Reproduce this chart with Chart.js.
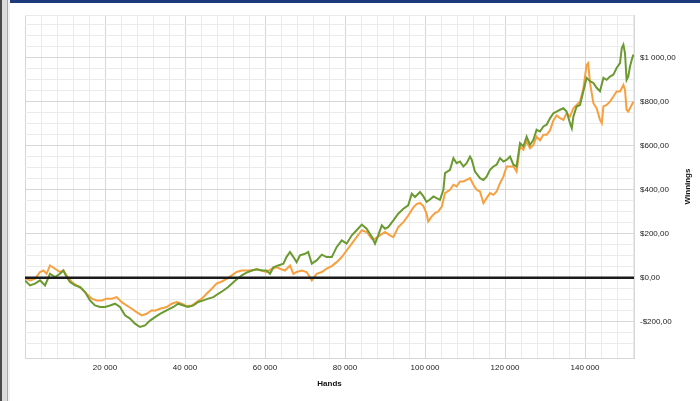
<!DOCTYPE html>
<html>
<head>
<meta charset="utf-8">
<script src="https://cdn.jsdelivr.net/npm/chart.js@4/dist/chart.umd.min.js"></script>
<style>
  html, body { margin: 0; padding: 0; background: #fff; }
  #wrap { position: relative; width: 700px; height: 401px; overflow: hidden; }
  #topbar { position: absolute; left: 0; top: 0; width: 700px; height: 3px; background: #1d3b7c; }
  #side { position: absolute; left: 0; top: 0; width: 10px; height: 401px;
    background: linear-gradient(to right, #4a4a4a 0, #4a4a4a 2px, #dcdcdc 2px, #dcdcdc 7px, #a8a8a8 7px, #a8a8a8 8px, #f2f2f2 8px, #f2f2f2 10px); }
  canvas { position: absolute; left: 0; top: 0; }
</style>
</head>
<body>
<div id="wrap">
  <canvas id="chart" width="700" height="401"></canvas>
  <div id="topbar"></div>
  <div id="side"></div>
</div>
<script>
// valeurs (mains jouées / gains en $)
const greenHands = [0, 1250, 2500, 3750, 5000, 6250, 7500, 8750, 9600, 10400, 11250, 12500, 13750, 15000, 16250, 17500, 18750, 20000, 21250, 22500, 23750, 25000, 26250, 27500, 28750, 30000, 31250, 32500, 33750, 35400, 37100, 38300, 39600, 40800, 42100, 43300, 44600, 45800, 47100, 48300, 49600, 50800, 52100, 53100, 54200, 55400, 56700, 57900, 59200, 60400, 61250, 62100, 63300, 64600, 65400, 66250, 67100, 67900, 68750, 70000, 70800, 71700, 72900, 74200, 75400, 76700, 77900, 79200, 80400, 81700, 82900, 84200, 85400, 86700, 87500, 88300, 89200, 90000, 90800, 92100, 93300, 94600, 95800, 96700, 97500, 98750, 99600, 100400, 101250, 102100, 102900, 103750, 104600, 105000, 106250, 107100, 107900, 108750, 109600, 110400, 111250, 111700, 112500, 113750, 114600, 115400, 116250, 117100, 117900, 118750, 119600, 120400, 121250, 122100, 122900, 123750, 124600, 125400, 126250, 127100, 127900, 128750, 129600, 130400, 131250, 132100, 132900, 133750, 134600, 135400, 136250, 136700, 137100, 137900, 138750, 139600, 140400, 141250, 142100, 142900, 143750, 144600, 145400, 146250, 147100, 147900, 148750, 149200, 149600, 150000, 150400, 150800, 151250, 151700, 152100];
const greenWinnings = [-12, -35, -27, -12, -35, 18, 3, 18, 33, 3, -20, -35, -42, -65, -103, -126, -133, -133, -126, -118, -133, -171, -186, -209, -224, -217, -195, -179, -164, -148, -133, -118, -126, -133, -126, -110, -103, -95, -88, -73, -58, -42, -20, -5, 11, 23, 33, 38, 33, 33, 18, 48, 56, 64, 95, 117, 94, 71, 102, 109, 117, 64, 79, 105, 94, 94, 139, 170, 155, 193, 216, 242, 223, 186, 155, 193, 238, 223, 230, 261, 291, 314, 329, 382, 367, 390, 370, 345, 356, 370, 362, 354, 400, 476, 491, 544, 521, 529, 506, 521, 551, 536, 483, 453, 445, 460, 491, 506, 514, 544, 529, 536, 551, 514, 506, 612, 597, 642, 604, 627, 673, 665, 688, 696, 725, 748, 756, 764, 771, 756, 703, 680, 733, 779, 786, 848, 909, 894, 886, 864, 848, 909, 900, 915, 924, 954, 976, 1045, 1060, 1021, 900, 915, 961, 992, 1015];

const orangeHands = [0, 1250, 2500, 3750, 4600, 5400, 6250, 7500, 8750, 9600, 10400, 11700, 12900, 14200, 15400, 16700, 17900, 19200, 20400, 21700, 22900, 24200, 25400, 26700, 27900, 29200, 30400, 31700, 32500, 33750, 35400, 36700, 37900, 39200, 40400, 41700, 42900, 44200, 45400, 46700, 47900, 49200, 50400, 51700, 52900, 54200, 55400, 56700, 57900, 59200, 60400, 61700, 62900, 63750, 65000, 66250, 67100, 67900, 69200, 70400, 71700, 72900, 74200, 75400, 76700, 77900, 79200, 80400, 81700, 82900, 84200, 85400, 86700, 87500, 88750, 90000, 91250, 92100, 93300, 94600, 95800, 97100, 97900, 98750, 99600, 100400, 100800, 101700, 102500, 103300, 104200, 105000, 106250, 107100, 107900, 108750, 109600, 110400, 111250, 112100, 112900, 113750, 114600, 115400, 116250, 117100, 117900, 118750, 119600, 120400, 121250, 122100, 122900, 123750, 124600, 125400, 126250, 127100, 127900, 128750, 129600, 130400, 131250, 132100, 132900, 133750, 134600, 135400, 136250, 137100, 137900, 138750, 139600, 140400, 140800, 141250, 142100, 142900, 143750, 144200, 144600, 145400, 146250, 147100, 147900, 148750, 149600, 150000, 150400, 150800, 151250, 152100];
const orangeWinnings = [-2, -12, -5, 26, 33, 18, 56, 41, 26, 33, 11, -20, -35, -50, -73, -95, -103, -103, -95, -95, -88, -111, -126, -141, -156, -171, -164, -148, -150, -141, -133, -118, -111, -118, -129, -126, -111, -95, -73, -50, -27, -17, -5, 11, 26, 33, 33, 33, 38, 33, 26, 41, 48, 41, 33, 56, 18, 26, 33, 26, -12, 18, 26, 41, 53, 71, 94, 124, 155, 185, 216, 208, 177, 177, 193, 208, 193, 185, 230, 253, 283, 320, 335, 340, 326, 292, 256, 279, 294, 301, 324, 385, 400, 423, 415, 438, 438, 445, 453, 423, 400, 392, 339, 362, 385, 377, 392, 430, 460, 506, 506, 506, 483, 597, 582, 620, 589, 604, 642, 625, 650, 650, 670, 715, 738, 726, 718, 748, 733, 771, 786, 801, 862, 968, 976, 886, 794, 771, 718, 703, 779, 786, 801, 824, 847, 847, 877, 854, 764, 756, 771, 801];

const handsMin = 0;
const handsMax = 152250;
const handsMinorStep = 4000;
const handsLabelStep = 20000;
const winMin = -365;
const winMax = 1195;
const winMinorStep = 50;
const winLabelStep = 200;

const toPoints = (xs, ys) => xs.map((x, i) => ({ x, y: ys[i] }));

// séparateur de milliers façon Excel (espace)
const groupThousands = n => String(n).replace(/\B(?=(\d{3})+(?!\d))/g, ' ');
const formatDollar = v => (v < 0 ? '-' : '') + '$' + groupThousands(Math.abs(v)) + ',00';

const fontFamily = 'Liberation Sans, Arial, sans-serif';
const tickFont = { family: fontFamily, size: 8 };
const labelColor = '#222';
const majorGrid = '#d6d6d6';
const minorGrid = '#ebebeb';

// ligne du zéro (noire, par-dessus les courbes) + titre vertical "Winnings"
const overlayPlugin = {
  id: 'overlay',
  afterDatasetsDraw(chart) {
    const { ctx, chartArea, scales } = chart;
    const y0 = scales.y.getPixelForValue(0);
    ctx.save();
    ctx.strokeStyle = '#1a1a1a';
    ctx.lineWidth = 2.5;
    ctx.beginPath();
    ctx.moveTo(chartArea.left, y0);
    ctx.lineTo(chartArea.right, y0);
    ctx.stroke();
    ctx.restore();
  },
  afterDraw(chart) {
    const { ctx, chartArea, scales } = chart;
    ctx.save();
    ctx.translate(scales.y.right - 6, (chartArea.top + chartArea.bottom) / 2);
    ctx.rotate(-Math.PI / 2);
    ctx.font = 'bold 8px ' + fontFamily;
    ctx.fillStyle = '#111';
    ctx.textAlign = 'center';
    ctx.textBaseline = 'middle';
    ctx.fillText('Winnings', 0, 0);
    ctx.restore();
  }
};

new Chart(document.getElementById('chart'), {
  type: 'line',
  data: {
    datasets: [
      {
        label: 'Green',
        data: toPoints(greenHands, greenWinnings),
        borderColor: '#6a9a30',
        borderWidth: 2,
        pointRadius: 0,
        tension: 0,
        order: 0
      },
      {
        label: 'Orange',
        data: toPoints(orangeHands, orangeWinnings),
        borderColor: '#f7a040',
        borderWidth: 2,
        pointRadius: 0,
        tension: 0,
        order: 1
      }
    ]
  },
  options: {
    responsive: false,
    animation: false,
    events: [],
    layout: { padding: { left: 25, top: 15, right: 6, bottom: 0 } },
    plugins: {
      legend: { display: false },
      tooltip: { enabled: false }
    },
    scales: {
      x: {
        type: 'linear',
        min: handsMin,
        max: handsMax,
        // Chart.js répartit les ticks uniformément quand min/max sont fixés : on les remet sur les multiples de 4000
        afterBuildTicks(scale) {
          const ticks = [];
          for (let v = handsMin; v <= handsMax; v += handsMinorStep) ticks.push({ value: v });
          scale.ticks = ticks;
        },
        afterFit(scale) { scale.height = 43; },
        ticks: {
          autoSkip: false,
          maxRotation: 0,
          padding: 5,
          font: tickFont,
          color: labelColor,
          callback: v => (v > 0 && v % handsLabelStep === 0 ? groupThousands(v) : '')
        },
        grid: {
          drawTicks: false,
          color: ctx => (ctx.tick && ctx.tick.value % handsLabelStep === 0 ? majorGrid : minorGrid),
          lineWidth: 1
        },
        border: { display: true, color: majorGrid },
        title: {
          display: true,
          text: 'Hands',
          color: '#111',
          font: { family: fontFamily, size: 8, weight: 'bold' },
          padding: { top: 0, bottom: 12 }
        }
      },
      y: {
        type: 'linear',
        position: 'right',
        min: winMin,
        max: winMax,
        afterFit(scale) { scale.width = 60; },
        ticks: {
          stepSize: winMinorStep,
          autoSkip: false,
          padding: 6,
          font: tickFont,
          color: labelColor,
          callback: v => (v % winLabelStep === 0 && v < 1200 ? formatDollar(v) : '')
        },
        grid: {
          drawTicks: false,
          color: ctx => (ctx.tick && ctx.tick.value % winLabelStep === 0 ? majorGrid : minorGrid),
          lineWidth: 1
        },
        border: { display: true, color: majorGrid }
      }
    }
  },
  plugins: [overlayPlugin]
});
</script>
</body>
</html>
